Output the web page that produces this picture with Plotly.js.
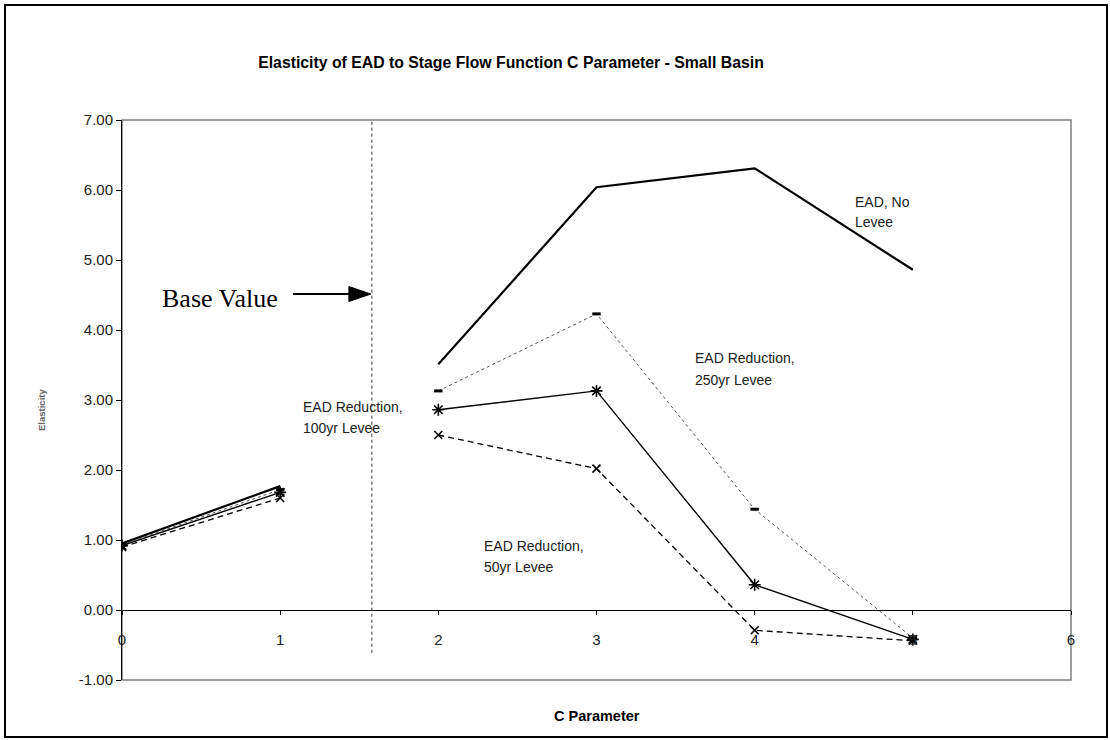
<!DOCTYPE html>
<html>
<head>
<meta charset="utf-8">
<script src="https://cdn.plot.ly/plotly-3.0.1.min.js"></script>
<style>
  html, body { margin: 0; padding: 0; background: #fff; }
  #chart { width: 1110px; height: 740px; }
</style>
</head>
<body>
<div id="chart"></div>
<script>
// ---- data ----
const cParam = [0, 1, 2, 3, 4, 5];
const noLevee  = [0.95, 1.77, 3.51, 6.04, 6.31, 4.86];
const levee250 = [0.93, 1.72, 3.13, 4.23, 1.44, -0.40];
const levee100 = [0.92, 1.68, 2.86, 3.13, 0.36, -0.42];
const levee50  = [0.90, 1.60, 2.50, 2.02, -0.29, -0.44];
const xTicks = [0, 1, 2, 3, 4, 5, 6];
const yTicks = [-1, 0, 1, 2, 3, 4, 5, 6, 7];
const baseValueX = 1.58;

// pixel -> data helpers for text placement (plot area 122..1071 x, zero at y=610, 70px/unit)
const px2x = px => (px - 122) / (949 / 6);
const py2y = py => (610 - py) / 70;

// line segments: points before and after the base value
function segTraces(vals, style) {
  const out = [];
  const groups = [[0, 2], [2, cParam.length]];
  groups.forEach(([a, b]) => {
    out.push(Object.assign({
      type: 'scatter',
      x: cParam.slice(a, b),
      y: vals.slice(a, b),
      showlegend: false,
      hoverinfo: 'x+y'
    }, JSON.parse(JSON.stringify(style))));
  });
  return out;
}

const traces = [].concat(
  segTraces(levee50, {
    mode: 'lines+markers',
    line: { color: '#000', width: 1.3, dash: '6px,4px' },
    marker: { symbol: 'x-thin-open', size: 8, color: '#000', line: { color: '#000', width: 1.6 } }
  }),
  segTraces(levee100, {
    mode: 'lines+markers',
    line: { color: '#000', width: 1.4 },
    marker: { symbol: 'asterisk-open', size: 10, color: '#000', line: { color: '#000', width: 1.6 } }
  }),
  segTraces(levee250, {
    mode: 'lines+markers',
    line: { color: '#555', width: 1, dash: 'dot' },
    marker: { symbol: 'line-ew-open', size: 6, color: '#000', line: { color: '#000', width: 3 } }
  }),
  segTraces(noLevee, {
    mode: 'lines',
    line: { color: '#000', width: 2.2 }
  })
);

const SANS = 'Liberation Sans, Arial, sans-serif';
const labelFont = { family: SANS, size: 14, color: '#222' };

function label(px, py, text) {
  return { xref: 'x', yref: 'y', x: px2x(px), y: py2y(py), xanchor: 'left', yanchor: 'middle',
           text: text, showarrow: false, font: labelFont };
}

const layout = {
  width: 1110,
  height: 740,
  margin: { l: 122, r: 39, t: 120, b: 60 },
  paper_bgcolor: '#fff',
  plot_bgcolor: '#fff',
  showlegend: false,
  title: {
    text: '<b>Elasticity of EAD to Stage Flow Function C Parameter - Small Basin</b>',
    font: { family: SANS, size: 15.8, color: '#000' },
    xref: 'container', x: 511 / 1110, xanchor: 'center',
    yref: 'container', y: 1 - 62 / 740, yanchor: 'middle'
  },
  xaxis: {
    range: [0, 6],
    anchor: 'free',
    position: 0.125,
    tickvals: xTicks,
    ticktext: xTicks.map(String),
    ticks: 'outside',
    ticklen: 4,
    tickcolor: '#000',
    ticklabelstandoff: 12,
    showline: true,
    linecolor: '#000',
    linewidth: 1,
    showgrid: false,
    zeroline: false,
    tickfont: { family: SANS, size: 15, color: '#222' }
  },
  yaxis: {
    range: [-1, 7],
    tickvals: yTicks,
    ticktext: yTicks.map(v => v.toFixed(2)),
    ticks: 'outside',
    ticklen: 5,
    tickcolor: '#000',
    showline: true,
    linecolor: '#000',
    linewidth: 1,
    showgrid: false,
    zeroline: false,
    tickfont: { family: SANS, size: 15, color: '#222' }
  },
  shapes: [
    // plot frame
    { type: 'rect', xref: 'paper', yref: 'paper', x0: 0, x1: 1, y0: 0, y1: 1,
      line: { color: '#808080', width: 1.5 }, layer: 'below' },
    // outer chart border
    { type: 'rect', xref: 'paper', yref: 'paper',
      x0: (5 - 122) / 949, x1: (1107 - 122) / 949,
      y0: (680 - 737) / 560, y1: (680 - 5) / 560,
      line: { color: '#000', width: 2 } },
    // base value line
    { type: 'line', xref: 'x', yref: 'y', x0: baseValueX, x1: baseValueX, y0: -0.61, y1: 7,
      line: { color: '#333', width: 1, dash: 'dot' } },
    // arrow shaft
    { type: 'path', xref: 'x', yref: 'y', xsizemode: 'pixel', ysizemode: 'pixel',
      xanchor: baseValueX, yanchor: py2y(294),
      path: 'M-79,0 L-20,0', line: { color: '#000', width: 2 } },
    // arrow head
    { type: 'path', xref: 'x', yref: 'y', xsizemode: 'pixel', ysizemode: 'pixel',
      xanchor: baseValueX, yanchor: py2y(294),
      path: 'M-23,-7.5 L-1,0 L-23,7.5 Z', fillcolor: '#000', line: { color: '#000', width: 1 } }
  ],
  annotations: [
    { xref: 'paper', yref: 'paper', x: 0.5, y: (680 - 716) / 560, xanchor: 'center', yanchor: 'middle',
      text: '<b>C Parameter</b>', showarrow: false,
      font: { family: SANS, size: 14.5, color: '#000' } },
    { xref: 'paper', yref: 'paper', x: (42 - 122) / 949, y: (680 - 410) / 560, xanchor: 'center', yanchor: 'middle',
      text: '<b>Elasticity</b>', textangle: -90, showarrow: false,
      font: { family: SANS, size: 9.5, color: '#666' } },
    { xref: 'x', yref: 'y', x: px2x(220), y: py2y(298), xanchor: 'center', yanchor: 'middle',
      text: 'Base Value', showarrow: false,
      font: { family: 'Liberation Serif, Times New Roman, serif', size: 26, color: '#000' } },
    label(853, 202, 'EAD, No'),
    label(853, 222, 'Levee'),
    label(693, 358, 'EAD Reduction,'),
    label(693, 380, '250yr Levee'),
    label(301, 407, 'EAD Reduction,'),
    label(301, 428, '100yr Levee'),
    label(482, 546, 'EAD Reduction,'),
    label(482, 567, '50yr Levee')
  ]
};

Plotly.newPlot('chart', traces, layout, { displayModeBar: false, staticPlot: true });
</script>
</body>
</html>
